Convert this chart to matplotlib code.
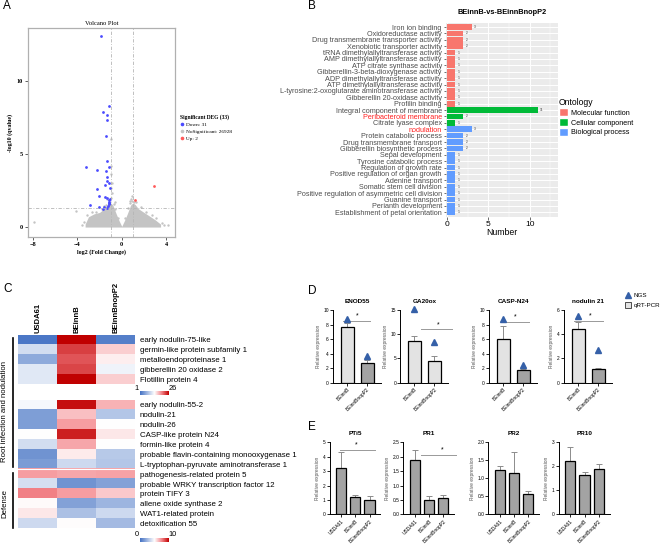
import matplotlib
matplotlib.use('Agg')
import matplotlib.pyplot as plt
import numpy as np
from matplotlib.colors import LinearSegmentedColormap
from matplotlib.patches import Patch
from matplotlib.lines import Line2D

plt.rcParams['font.family'] = ['Liberation Sans', 'DejaVu Sans']

# ---------------- data ----------------
# A: volcano plot
down_x = [-1.89, -1.11, -1.71, -1.29, -1.29, -1.44, -1.29, -3.22, -1.17, -2.2, -1.41,
          -1.29, -1.29, -1.47, -1.14, -2.26, -1.05, -2.05, -1.5, -1.35, -1.05, -2.86,
          -2.08, -1.56, -1.17, -1.17, -1.2, -1.11, -1.35, -1.65, -1.14]
down_y = [13.06, 8.26, 7.85, 7.63, 7.31, 6.21, 4.52, 4.09, 4.09, 3.93, 3.86,
          3.42, 3.17, 2.9, 3.01, 2.63, 2.65, 2.15, 2.05, 2.0, 1.92, 1.53,
          1.39, 1.37, 1.74, 1.6, 1.46, 1.64, 1.3, 1.23, 1.83]
up_x = [2.95, 1.2]
up_y = [2.83, 1.87]
ns_x = [-7.88, -4.12, 4.15, -0.95, -0.93, -0.96, -0.92, -0.94, -0.9, 0.85, 0.9, 0.95,
        0.7, -0.6, -0.97, 1.1, -1.3, -3.4, -3.1, -2.7, -2.3, -1.8, -1.6, -1.4, -0.7,
        -0.6, 0.6, 0.75, 1.3, 1.7, 2.2, 2.7, 3.1, 3.6, 3.8, -3.6, 0.3, -0.3]
ns_y = [0.34, 1.07, 0.11, 6.0, 4.2, 3.6, 3.0, 2.7, 2.3, 1.95, 1.8, 2.1,
        1.75, 1.7, 2.0, 1.7, 1.9, 0.35, 0.85, 1.0, 1.05, 1.25, 1.45, 1.5, 1.6,
        1.2, 1.3, 1.65, 1.7, 1.35, 1.05, 0.85, 0.65, 0.3, 0.15, 0.15, 0.6, 0.65]
cloud_x = [-3.3, -3.0, -2.5, -2.0, -1.5, -1.2, -1.0, -0.8, -0.5, -0.25, 0.0,
           0.25, 0.5, 0.8, 1.0, 1.2, 1.5, 2.0, 2.5, 3.0, 3.5]
cloud_top = [0.2, 0.7, 0.9, 1.0, 1.3, 1.6, 1.65, 1.5, 0.9, 0.45, 0.05,
             0.45, 0.9, 1.5, 1.65, 1.55, 1.25, 1.0, 0.75, 0.5, 0.2]

# B: GO enrichment
go_terms = ['Iron ion binding', 'Oxidoreductase activity', 'Drug transmembrane transporter activity',
            'Xenobiotic transporter activity', 'tRNA dimethylallyltransferase activity',
            'AMP dimethylallyltransferase activity', 'ATP citrate synthase activity',
            'Gibberellin-3-beta-dioxygenase activity', 'ADP dimethylallyltransferase activity',
            'ATP dimethylallyltransferase activity',
            'L-tyrosine:2-oxoglutarate aminotransferase activity', 'Gibberellin 20-oxidase activity',
            'Profilin binding', 'Integral component of membrane', 'Peribacteroid membrane',
            'Citrate lyase complex', 'nodulation', 'Protein catabolic process',
            'Drug transmembrane transport', 'Gibberellin biosynthetic process', 'Sepal development',
            'Tyrosine catabolic process', 'Regulation of growth rate',
            'Positive regulation of organ growth', 'Adenine transport', 'Somatic stem cell division',
            'Positive regulation of asymmetric cell division', 'Guanine transport',
            'Perianth development', 'Establishment of petal orientation']
go_counts = [3, 2, 2, 2, 1, 1, 1, 1, 1, 1, 1, 1, 1, 11, 2, 1, 3, 2, 2, 2, 1, 1, 1, 1, 1, 1, 1, 1, 1, 1]
go_class = ['MF'] * 13 + ['CC'] * 3 + ['BP'] * 14
go_red = ['Peribacteroid membrane', 'nodulation']

# C: heatmap
hm_cols = ['USDA61', 'BEinnB', 'BEinnBnopP2']
hm1_rows = ['early nodulin-75-like', 'germin-like protein subfamily 1', 'metalloendoproteinase 1',
            'gibberellin 20 oxidase 2', 'Flotillin protein 4']
hm1_vals = [[1.5, 26, 2.2],
            [10.5, 23, 16],
            [6, 22, 14.3],
            [11.5, 22.7, 12.5],
            [11.5, 26, 16]]
hm2_rows = ['early nodulin-55-2', 'nodulin-21', 'nodulin-26', 'CASP-like protein N24',
            'formin-like protein 4', 'probable flavin-containing monooxygenase 1',
            'L-tryptophan-pyruvate aminotransferase 1', 'pathogenesis-related protein 5',
            'probable WRKY transcription factor 12', 'protein TIFY 3', 'allene oxide synthase 2',
            'WAT1-related protein', 'detoxification 55']
hm2_vals = [[4.8, 9.7, 6.6],
            [1.6, 6.3, 3.0],
            [1.6, 7.0, 5.0],
            [5.0, 9.4, 5.5],
            [3.8, 6.8, 5.0],
            [1.2, 5.4, 3.1],
            [1.5, 3.7, 3.0],
            [7.0, 6.8, 6.9],
            [3.9, 1.2, 1.7],
            [7.6, 7.0, 6.1],
            [5.1, 1.7, 2.4],
            [5.5, 2.8, 3.7],
            [3.7, 5.05, 2.6]]

# D: NGS vs qRT-PCR
d_titles = ['ENOD55', 'GA20ox', 'CASP-N24', 'nodulin 21']
d_groups = ['BEinnB', 'BEinnBnopP2']
d_qpcr = [[7.6, 2.7], [8.7, 4.4], [6.0, 1.7], [4.4, 1.15]]
d_err = [[0.6, 0.4], [0.9, 1.2], [1.8, 0.2], [0.6, 0.07]]
d_ngs = [[8.8, 3.7], [15.3, 8.4], [8.8, 2.4], [5.5, 2.7]]
d_ymax = [10, 15, 10, 6]
d_step = [2, 5, 2, 2]
d_sig_y = [8.5, 11.0, 8.4, 5.1]
d_sig_x = [(-0.2, 1.15), (0.35, 1.9), (0.1, 1.3), (-0.2, 1.25)]
d_star_x = [0.52, 1.19, 0.6, 0.59]
d_dark = [True, False, True, True]

# E: defense genes
e_titles = ['PTi5', 'PR1', 'PR2', 'PR10']
e_groups = ['USDA61', 'BEinnB', 'BEinnBnopP2']
e_vals = [[3.2, 1.2, 1.02], [1.87, 0.48, 0.55], [1.22, 1.16, 0.55], [2.22, 1.65, 1.88]]
e_err = [[1.1, 0.12, 0.23], [0.35, 0.17, 0.11], [0.11, 0.56, 0.1], [0.58, 0.13, 0.22]]
e_ymax = [5, 2.5, 2.0, 3]
e_step = [1, 0.5, 0.5, 1]
e_sig = {0: (4.5, -0.05, 2.35, 1.03), 1: (2.05, 0.45, 2.9, 1.94)}

W, H = 669, 548
fig = plt.figure(figsize=(W / 100, H / 100), dpi=100)


def px_axes(l, t, r, b):
    return fig.add_axes([l / W, 1 - b / H, (r - l) / W, (b - t) / H])


def ftext(x, y, s, **kw):
    return fig.text(x / W, 1 - y / H, s, **kw)


# panel letters
for lab, x, y in [('A', 3, 6), ('B', 308, 6), ('C', 3, 289), ('D', 308, 291), ('E', 308, 427)]:
    ftext(x, y, lab, fontsize=8.5, va='center')

# ---------------- A ----------------
serif = 'Liberation Serif'
ax = px_axes(28, 28, 175, 237)
ax.fill_between(cloud_x, 0, cloud_top, color='#c4c4c4', lw=0)
ax.scatter(ns_x, ns_y, s=3, color='#c4c4c4', lw=0)
ax.scatter(down_x, down_y, s=4, color='#4b4bff', lw=0)
ax.scatter(up_x, up_y, s=4, color='#ff5a5a', lw=0)
ax.axvline(-1, color='#b5b5b5', ls=(0, (4, 2, 1, 2)), lw=0.6)
ax.axvline(1, color='#b5b5b5', ls=(0, (4, 2, 1, 2)), lw=0.6)
ax.axhline(1.3, color='#b5b5b5', ls=(0, (4, 2, 1, 2)), lw=0.6)
ax.set_xlim(-8.45, 4.8)
ax.set_ylim(-0.68, 13.6)
ax.set_xticks([-8, -4, 0, 4])
ax.set_yticks([0, 5, 10])
for sp in ax.spines.values():
    sp.set_color('#b0b0b0')
    sp.set_linewidth(0.9)
ax.tick_params(length=2, width=0.6, labelsize=4.5, pad=1.5, color='#444')
for t in ax.get_xticklabels() + ax.get_yticklabels():
    t.set_fontfamily(serif)
    t.set_fontweight('bold')
ax.set_title('Volcano Plot', fontsize=4.7, family=serif, pad=2)
ax.set_xlabel('log2 (Fold Change)', fontsize=4.3, family=serif, fontweight='bold', labelpad=1.5)
ax.set_ylabel('-log10 (qvalue)', fontsize=4.3, family=serif, fontweight='bold', labelpad=3)
hA = [Line2D([], [], marker='o', ls='', color='#4b4bff', ms=1.6),
      Line2D([], [], marker='o', ls='', color='#c4c4c4', ms=1.6),
      Line2D([], [], marker='o', ls='', color='#ff5a5a', ms=1.6)]
legA = fig.legend(hA, ['Down: 31', 'NoSignificant: 26928', 'Up: 2'], loc='upper left',
                  bbox_to_anchor=(180 / W, 1 - 114 / H), frameon=False,
                  title='Significant DEG (33)', prop={'family': serif, 'size': 3.8},
                  handlelength=0.8, handletextpad=0.3, labelspacing=0.45, borderpad=0, borderaxespad=0)
legA.get_title().set_fontfamily(serif)
legA.get_title().set_fontweight('bold')
legA.get_title().set_fontsize(4.0)
legA._legend_box.align = 'left'

# ---------------- B ----------------
colB = {'MF': '#F8766D', 'CC': '#00BA38', 'BP': '#619CFF'}
ax = px_axes(445.7, 23.3, 557.7, 216.7)
ax.set_facecolor('#EBEBEB')
ypos = np.arange(len(go_terms))
ax.set_xlim(-0.15, 13.4)
ax.set_ylim(29.69, -0.58)
for xv in [2.5, 7.5, 12.5]:
    ax.axvline(xv, color='white', lw=0.35, zorder=0)
for xv in [0, 5, 10]:
    ax.axvline(xv, color='white', lw=0.7, zorder=0)
for yv in ypos:
    ax.axhline(yv, color='white', lw=0.7, zorder=0)
ax.barh(ypos, go_counts, height=0.9, color=[colB[c] for c in go_class], zorder=2)
for yv, v in zip(ypos, go_counts):
    ax.text(v + 0.25, yv, str(v), fontsize=2.3, va='center', color='#333333')
ax.set_yticks(ypos)
ax.set_yticklabels(go_terms, fontsize=5.2, color='#4d4d4d')
for t in ax.get_yticklabels():
    if t.get_text() in go_red:
        t.set_color('#ff2020')
ax.set_xticks([0, 5, 10])
ax.tick_params(axis='x', labelsize=6, length=2, width=0.5, color='#333', pad=1)
ax.tick_params(axis='y', length=1.8, width=0.5, color='#333', pad=1)
for sp in ax.spines.values():
    sp.set_visible(False)
ax.set_xlabel('Number', fontsize=6.3, labelpad=0)
ax.set_title('BEinnB-vs-BEinnBnopP2', fontsize=5.3, fontweight='bold', pad=7)
hB = [Patch(facecolor=colB[k], edgecolor='white') for k in ['MF', 'CC', 'BP']]
legB = fig.legend(hB, ['Molecular function', 'Cellular component', 'Biological process'],
                  loc='upper left', bbox_to_anchor=(559 / W, 1 - 98 / H), frameon=False,
                  title='Ontology', fontsize=5.2, title_fontsize=6.2, handlelength=1.2,
                  handleheight=1.3, handletextpad=0.4, labelspacing=0.2, borderpad=0, borderaxespad=0)
legB._legend_box.align = 'left'

# ---------------- C ----------------
cmap = LinearSegmentedColormap.from_list(
    'bwr_c', [(0, '#4472C4'), (0.5, '#FFFFFF'), (0.75, '#F4868B'), (1, '#C00000')])
ax1 = px_axes(18.3, 335, 135, 384.3)
ax1.imshow(np.array(hm1_vals), cmap=cmap, vmin=1, vmax=26, aspect='auto', interpolation='nearest')
ax2 = px_axes(18.3, 400, 135, 528.5)
ax2.imshow(np.array(hm2_vals), cmap=cmap, vmin=0, vmax=10, aspect='auto', interpolation='nearest')
ax2.axhline(6.5, color='white', lw=0.8)
for a, rows in [(ax1, hm1_rows), (ax2, hm2_rows)]:
    a.set_xticks([])
    a.yaxis.tick_right()
    a.set_yticks(range(len(rows)))
    a.set_yticklabels(rows, fontsize=5.7)
    a.tick_params(axis='y', length=0, pad=3.5)
    for sp in a.spines.values():
        sp.set_visible(False)
for i, c in enumerate(hm_cols):
    ftext(18.3 + 39 * (i + 0.5), 333, c, rotation=90, ha='center', va='bottom',
          fontsize=5.5, fontweight='bold')
grad = np.linspace(0, 1, 200)[None, :]
for (t, b), lo, hi in [((391, 395.5), '1', '26'), ((537.5, 542), '0', '10')]:
    cb = px_axes(139.5, t, 168, b)
    cb.imshow(grad, cmap=cmap, aspect='auto')
    cb.axis('off')
    ftext(138.5, t - 2.5, lo, fontsize=5.3, ha='right', va='center')
    ftext(168.5, t - 2.5, hi, fontsize=5.3, ha='left', va='center')
fig.add_artist(Line2D([12.7 / W, 12.7 / W], [1 - 338 / H, 1 - 467 / H], color='black', lw=1.2))
fig.add_artist(Line2D([12.7 / W, 12.7 / W], [1 - 473 / H, 1 - 528 / H], color='black', lw=1.2))
ftext(5, 411, 'Root infection and nodulation', rotation=90, ha='center', va='center', fontsize=5.6)
ftext(5, 503, 'Defense', rotation=90, ha='center', va='center', fontsize=5.6)

# ---------------- D ----------------
tri_col = '#3560A8'
d_mid = [357, 424.5, 513, 588]
for k in range(4):
    l = d_mid[k] - 24
    ax = px_axes(l, 310, l + 48, 382.7)
    cols = ['#e3e3e3', '#a3a3a3' if d_dark[k] else '#e3e3e3']
    ax.bar([0, 1], d_qpcr[k], width=0.65, color=cols, edgecolor='black', lw=0.9, zorder=2)
    ax.errorbar([0, 1], d_qpcr[k], yerr=[[0, 0], d_err[k]], fmt='none', ecolor='#8c8c8c',
                elinewidth=0.7, capsize=2, capthick=0.7, zorder=1)
    ax.plot([0, 1], d_ngs[k], ls='', marker='^', ms=4.5, color=tri_col, zorder=3, clip_on=False)
    x0, x1 = d_sig_x[k]
    ax.plot([x0, x1], [d_sig_y[k]] * 2, color='#999999', lw=0.7, clip_on=False)
    ax.text(d_star_x[k], d_sig_y[k] + d_ymax[k] * 0.02, '*', fontsize=5, ha='center', va='bottom')
    ax.set_xlim(-0.7, 1.7)
    ax.set_ylim(0, d_ymax[k])
    ax.set_yticks(np.arange(0, d_ymax[k] + 0.01, d_step[k]))
    ax.set_xticks([0, 1])
    ax.set_xticklabels(d_groups, rotation=45, ha='right', rotation_mode='anchor')
    ax.tick_params(labelsize=3.5, length=2, width=0.6, pad=1)
    for sp in ['top', 'right']:
        ax.spines[sp].set_visible(False)
    for sp in ['left', 'bottom']:
        ax.spines[sp].set_linewidth(0.7)
    ax.set_ylabel('Relative expression', fontsize=3.5, color='#555555', labelpad=2)
    ax.set_title(d_titles[k], fontsize=4.6, fontweight='bold', pad=5)
hD = [Line2D([], [], marker='^', ls='', color=tri_col, ms=4.5),
      Patch(facecolor='#e3e3e3', edgecolor='#333333', lw=0.6)]
fig.legend(hD, ['NGS', 'qRT-PCR'], loc='upper left', bbox_to_anchor=(625 / W, 1 - 292 / H),
           frameon=False, fontsize=4.5, handlelength=1.0, handleheight=1.2, handletextpad=0.4,
           labelspacing=0.5, borderpad=0, borderaxespad=0)

# ---------------- E ----------------
e_mid = [355.3, 429, 514, 584.5]
for k in range(4):
    l = e_mid[k] - 25.6
    ax = px_axes(l, 442.3, l + 50.6, 514.3)
    ax.bar([0, 1, 2], e_vals[k], width=0.72, color='#a3a3a3', edgecolor='black', lw=0.9, zorder=2)
    ax.errorbar([0, 1, 2], e_vals[k], yerr=[[0, 0, 0], e_err[k]], fmt='none', ecolor='#8c8c8c',
                elinewidth=0.7, capsize=2, capthick=0.7, zorder=1)
    if k in e_sig:
        yv, x0, x1, xs = e_sig[k]
        ax.plot([x0, x1], [yv, yv], color='#999999', lw=0.7, clip_on=False)
        ax.text(xs, yv + e_ymax[k] * 0.02, '*', fontsize=5, ha='center', va='bottom')
    ax.set_xlim(-0.8, 2.75)
    ax.set_ylim(0, e_ymax[k])
    yt = np.arange(0, e_ymax[k] + 0.001, e_step[k])
    ax.set_yticks(yt)
    if e_step[k] < 1:
        ax.set_yticklabels(['%.1f' % v for v in yt])
    ax.set_xticks([0, 1, 2])
    ax.set_xticklabels(e_groups, rotation=45, ha='right', rotation_mode='anchor')
    ax.tick_params(labelsize=3.5, length=2, width=0.6, pad=1)
    for sp in ['top', 'right']:
        ax.spines[sp].set_visible(False)
    for sp in ['left', 'bottom']:
        ax.spines[sp].set_linewidth(0.7)
    ax.set_ylabel('Relative expression', fontsize=3.5, color='#555555', labelpad=2)
    ax.set_title(e_titles[k], fontsize=4.6, fontweight='bold', pad=5)

fig.savefig('out.png', dpi=100)
